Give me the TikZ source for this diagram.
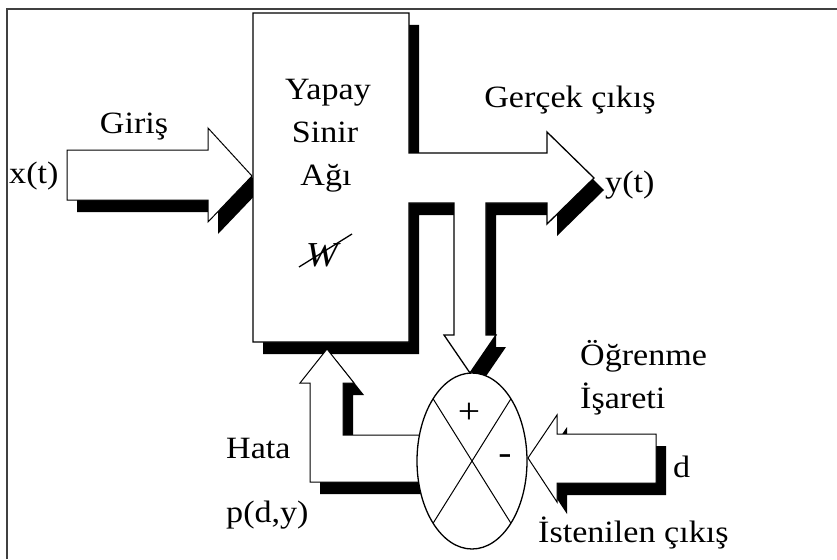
\documentclass[tikz,border=0pt]{standalone}
\usepackage{fontspec}
\setmainfont{Liberation Serif}[FakeStretch=1.1]
\newcommand\inpath[1]{\path[#1] (67,150) -- (208,150) -- (208,128) -- (252,176) -- (208,222) -- (208,200) -- (67,200) -- cycle;}
\newcommand\mainpath[1]{\path[#1] (253,13) -- (409,13) -- (409,153) -- (547,153) -- (547,132) -- (594,178) -- (547,224) -- (547,203) -- (486,203) -- (486,335) -- (496,335) -- (470,373) -- (444,335) -- (454,335) -- (454,203) -- (409,203) -- (409,342) -- (253,342) -- cycle;}
\newcommand\fbpath[1]{\path[#1] (327,349) -- (354,383) -- (343,383) -- (343,435) -- (428,435) -- (428,482) -- (310,482) -- (310,383) -- (300,383) -- cycle;}
\newcommand\dpath[1]{\path[#1] (528,458) -- (557,415) -- (557,434) -- (656,434) -- (656,483) -- (557,483) -- (557,502) -- cycle;}
\begin{document}
\begin{tikzpicture}[x=1pt,y=-1pt,
  lbl/.style={inner sep=0pt, font=\fontsize{31}{37}\selectfont},
  shp/.style={draw=black, line width=1pt, fill=white, line join=miter},
  shd/.style={fill=black, shift={(10,12)}}]
\useasboundingbox (0,0) rectangle (837,559);
\fill[white] (0,0) rectangle (837,559);
\draw[line width=1.5pt, draw=black!75] (7,559) -- (7,9) -- (837,9);
% input arrow
\inpath{shd}
\inpath{shp}
% network block with output and branch
\mainpath{shd}
\mainpath{shp, line width=1.3pt}
% feedback arrow
\fbpath{shd}
\fbpath{shp}
% desired output arrow
\dpath{shd}
\dpath{shp}
% summing junction
\draw[fill=white, line width=1.3pt] (472,461) ellipse [x radius=55, y radius=88];
\draw[line width=1pt] (433.1,398.8) -- (510.9,523.2);
\draw[line width=1pt] (510.9,398.8) -- (433.1,523.2);
\node[lbl, font=\fontsize{36}{40}\selectfont] (plus) at (469,413) {+};
\node[lbl, font=\fontsize{36}{40}\selectfont] (minus) at (505,460) {-};
% labels
\node[lbl, anchor=base west] (xt) at (9,183) {x(t)};
\node[lbl, anchor=base] (giris) at (134,133) {Giriş};
\node[lbl, anchor=base] (yapay) at (328,100) {Yapay};
\node[lbl, anchor=base] (sinir) at (325,142) {Sinir};
\node[lbl, anchor=base] (agi) at (326,185) {Ağı};
\node[lbl, anchor=base, font=\fontsize{35}{40}\selectfont] (w) at (322,266) {\itshape W};
\draw[line width=1.3pt] (299,267) -- (352,234);
\node[lbl, anchor=base] (gercek) at (570,108) {Gerçek çıkış};
\node[lbl, anchor=base west] (yt) at (605,192) {y(t)};
\node[lbl, anchor=base west] (hata) at (226,458) {Hata};
\node[lbl, anchor=base west] (pdy) at (226,522) {p(d,y)};
\node[lbl, anchor=base west] (ogrenme) at (580,365) {Öğrenme};
\node[lbl, anchor=base west] (isareti) at (580,408) {İşareti};
\node[lbl, anchor=base west] (d) at (673,477) {d};
\node[lbl, anchor=base west] (istenilen) at (538,542) {İstenilen çıkış};
\end{tikzpicture}
\end{document}
